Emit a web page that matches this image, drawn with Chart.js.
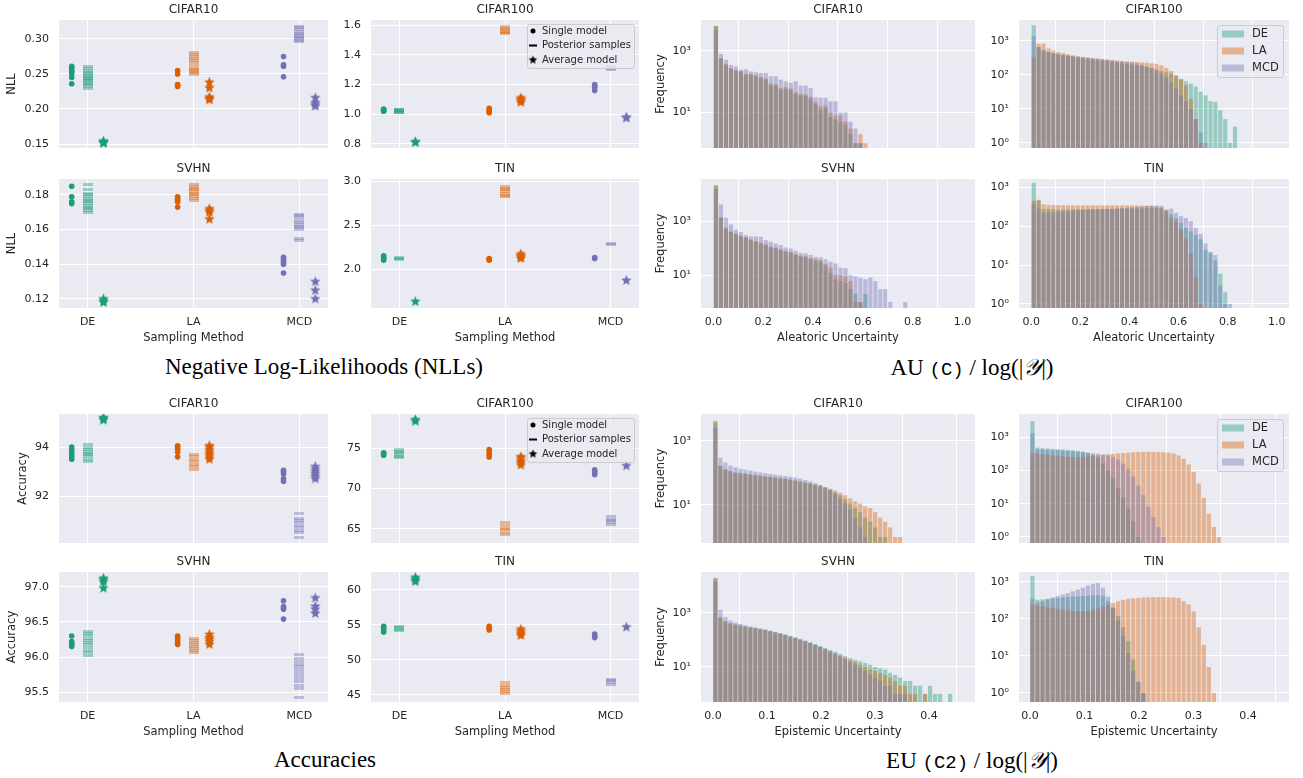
<!DOCTYPE html>
<html>
<head>
<meta charset="utf-8">
<title>NLL, accuracy and uncertainty histograms</title>
<script src="https://cdn.jsdelivr.net/npm/chart.js@4.4.1/dist/chart.umd.min.js"></script>
<style>
  html, body { margin: 0; padding: 0; background: #ffffff; }
  #fig { position: relative; width: 1303px; height: 778px; overflow: hidden; }
  #fig canvas { position: absolute; }
  .caption { position: absolute; transform: translate(-50%, -50%); white-space: nowrap;
             font-family: 'Liberation Serif', serif; font-size: 23px; color: #000; }
  .caption .tt { font-family: 'Liberation Mono', monospace; font-size: 19px; }
  .caption .cal { font-family: 'DejaVu Serif', serif; font-style: italic; }
</style>
</head>
<body>
<div id="fig">
  <div class="caption" style="left:324px;top:367px">Negative Log-Likelihoods (NLLs)</div>
  <div class="caption" style="left:972px;top:367px">AU <span class="tt">(C)</span> / log(|<span class="cal">𝒴</span>|)</div>
  <div class="caption" style="left:325px;top:760px">Accuracies</div>
  <div class="caption" style="left:972px;top:760px">EU <span class="tt">(C2)</span> / log(|<span class="cal">𝒴</span>|)</div>
</div>
<script>
// ---------- data ----------
const methods = ['DE', 'LA', 'MCD'];

// scatter values, one list per method (DE, LA, MCD)
const nllC10Single = [[0.236, 0.245, 0.250, 0.253, 0.255, 0.258, 0.261], [0.232, 0.234, 0.235, 0.250, 0.255], [0.246, 0.261, 0.263, 0.275]];
const nllC10Post = [[0.229, 0.232, 0.235, 0.237, 0.239, 0.241, 0.243, 0.244, 0.246, 0.248, 0.250, 0.252, 0.255, 0.258, 0.261],
  [0.249, 0.252, 0.254, 0.256, 0.258, 0.262, 0.266, 0.269, 0.272, 0.275, 0.278, 0.280],
  [0.296, 0.298, 0.300, 0.302, 0.304, 0.306, 0.308, 0.310, 0.313, 0.316, 0.318]];
const nllC10Avg = [[0.151, 0.152, 0.153, 0.154], [0.213, 0.215, 0.217, 0.230, 0.238], [0.204, 0.206, 0.209, 0.216]];

const nllC100Single = [[1.02, 1.025, 1.03, 1.035], [1.01, 1.02, 1.03, 1.04], [1.16, 1.18, 1.19, 1.20]];
const nllC100Post = [[1.01, 1.015, 1.02, 1.025, 1.03, 1.035], [1.54, 1.55, 1.56, 1.57, 1.58, 1.59], [1.30, 1.31, 1.32]];
const nllC100Avg = [[0.81, 0.815], [1.08, 1.09, 1.10, 1.11], [0.975, 0.98]];

const nllSvhnSingle = [[0.175, 0.176, 0.179, 0.185], [0.173, 0.176, 0.177, 0.178, 0.179], [0.135, 0.140, 0.141, 0.142, 0.143, 0.144]];
const nllSvhnPost = [[0.170, 0.171, 0.172, 0.173, 0.174, 0.175, 0.176, 0.177, 0.178, 0.179, 0.180, 0.181, 0.183, 0.186],
  [0.177, 0.178, 0.179, 0.180, 0.181, 0.182, 0.183, 0.184, 0.185, 0.186],
  [0.154, 0.155, 0.160, 0.161, 0.162, 0.163, 0.164, 0.165, 0.167, 0.168, 0.169]];
const nllSvhnAvg = [[0.118, 0.119, 0.120], [0.166, 0.170, 0.171, 0.172], [0.120, 0.125, 0.130]];

const nllTinSingle = [[2.10, 2.12, 2.13, 2.15], [2.10, 2.11, 2.12], [2.12, 2.13]];
const nllTinPost = [[2.11, 2.12, 2.13], [2.82, 2.84, 2.86, 2.88, 2.90, 2.92, 2.94], [2.28, 2.29]];
const nllTinAvg = [[1.63], [2.12, 2.14, 2.15, 2.17], [1.87]];

const accC10Single = [[93.5, 93.6, 93.7, 93.8, 93.9, 94.0], [93.6, 93.8, 93.9, 94.0, 94.05], [92.6, 92.7, 92.9, 93.0, 93.05]];
const accC10Post = [[93.4, 93.5, 93.6, 93.7, 93.75, 93.8, 93.9, 94.0, 94.1], [93.1, 93.2, 93.3, 93.4, 93.5, 93.6, 93.7],
  [90.3, 90.5, 90.6, 90.7, 90.8, 90.9, 91.0, 91.1, 91.3]];
const accC10Avg = [[95.1, 95.15, 95.2], [93.5, 93.6, 93.7, 93.8, 93.9, 94.0, 94.05], [92.7, 92.8, 92.9, 93.0, 93.1, 93.2]];

const accC100Single = [[74.1, 74.3, 74.4], [73.9, 74.2, 74.5, 74.8], [71.7, 71.9, 72.1, 72.3]];
const accC100Post = [[73.8, 74.0, 74.2, 74.4, 74.6, 74.8], [64.3, 64.6, 64.9, 65.1, 65.4, 65.8], [65.5, 65.8, 66.0, 66.2, 66.5]];
const accC100Avg = [[78.3, 78.5], [72.9, 73.2, 73.5, 73.8, 73.9], [72.8]];

const accSvhnSingle = [[96.15, 96.18, 96.2, 96.22, 96.3], [96.18, 96.2, 96.24, 96.27, 96.3], [96.54, 96.68, 96.7, 96.72, 96.8]];
const accSvhnPost = [[96.02, 96.06, 96.1, 96.14, 96.18, 96.21, 96.24, 96.27, 96.3, 96.33, 96.37],
  [96.06, 96.09, 96.12, 96.15, 96.18, 96.21, 96.24, 96.27],
  [95.42, 95.55, 95.6, 95.65, 95.7, 95.74, 95.78, 95.82, 95.86, 95.9, 95.94, 95.98, 96.03]];
const accSvhnAvg = [[96.98, 97.07, 97.1, 97.12], [96.18, 96.22, 96.25, 96.28, 96.32], [96.62, 96.68, 96.72, 96.84]];

const accTinSingle = [[54.0, 54.3, 54.6, 54.8], [54.3, 54.5, 54.8], [53.2, 53.4, 53.7]];
const accTinPost = [[54.2, 54.4, 54.6, 54.8], [45.2, 45.5, 45.8, 46.1, 46.4, 46.8], [46.5, 46.8, 47.0, 47.2]];
const accTinAvg = [[61.2, 61.5, 61.8], [53.5, 53.8, 54.1, 54.4], [54.7]];

// tick labels
const nllC10Ticks = [0.15, 0.20, 0.25, 0.30];
const nllC100Ticks = [0.8, 1.0, 1.2, 1.4, 1.6];
const nllSvhnTicks = [0.12, 0.14, 0.16, 0.18];
const nllTinTicks = [2.0, 2.5, 3.0];
const accC10Ticks = [92, 94];
const accC100Ticks = [65, 70, 75];
const accSvhnTicks = [95.5, 96.0, 96.5, 97.0];
const accTinTicks = [45, 50, 55, 60];
const auTicks = [0, 0.2, 0.4, 0.6, 0.8, 1.0];
const euTicks = [0, 0.1, 0.2, 0.3, 0.4];
const decadesAll = [1, 10, 100, 1000];
const decadesOdd = [10, 1000];

// histogram counts per bin, [DE, LA, MCD]
const auBin = 0.02;
const euBin = 0.00924;

const auC10Counts = [
  [6400, 550, 350, 260, 225, 210, 168, 168, 150, 131, 116, 74, 74, 55, 58, 53, 40, 35, 34, 28, 18, 12, 14, 7, 6, 5, 4, 2, 1, 1],
  [6400, 580, 370, 275, 235, 220, 180, 178, 160, 140, 128, 88, 82, 62, 66, 60, 46, 40, 38, 32, 22, 16, 17, 10, 8, 8, 5, 3, 1, 2, 1],
  [4800, 800, 510, 350, 310, 245, 250, 215, 200, 190, 190, 150, 150, 116, 103, 91, 103, 74, 74, 62, 31, 30, 30, 23, 23, 10, 10, 5, 3, 1]
];
const auC100Counts = [
  [2900, 660, 530, 470, 430, 400, 380, 360, 340, 320, 305, 290, 280, 270, 260, 250, 240, 230, 220, 210, 200, 190, 180, 170, 160, 145, 130, 120, 110, 90, 75, 65, 55, 45, 32, 25, 17, 16, 9, 5, 1, 3],
  [340, 830, 830, 600, 520, 470, 440, 410, 380, 360, 340, 325, 310, 300, 290, 280, 270, 260, 255, 250, 245, 240, 235, 230, 220, 210, 190, 160, 130, 100, 75, 49, 20, 5, 1],
  [1370, 660, 530, 470, 430, 410, 390, 370, 355, 340, 330, 320, 310, 300, 290, 280, 270, 260, 250, 240, 230, 215, 200, 180, 160, 135, 110, 85, 60, 40, 25, 17, 10, 5, 2, 1]
];
const auSvhnCounts = [
  [20500, 1330, 520, 390, 320, 270, 240, 195, 170, 146, 128, 105, 96, 83, 72, 66, 55, 47, 45, 38, 34, 31, 21, 12, 7, 6, 5, 3, 2, 1, 2],
  [21000, 1400, 560, 420, 345, 290, 255, 210, 182, 158, 138, 115, 104, 90, 78, 72, 60, 52, 50, 43, 39, 36, 26, 19, 10, 10, 9, 6, 1, 1],
  [15500, 4100, 1330, 750, 480, 390, 300, 270, 270, 260, 195, 170, 146, 128, 105, 96, 79, 66, 63, 55, 47, 45, 38, 31, 27, 19, 18, 10, 9, 8, 7, 8, 6, 3, 3, 1, 0, 0, 1]
];
const auTinCounts = [
  [1300, 450, 280, 275, 270, 265, 265, 265, 270, 270, 270, 270, 270, 272, 275, 275, 275, 278, 280, 280, 280, 282, 285, 285, 288, 290, 280, 240, 200, 160, 120, 89, 73, 60, 46, 24, 22, 13, 6, 2],
  [450, 475, 365, 350, 350, 345, 345, 342, 340, 340, 340, 340, 340, 340, 340, 340, 340, 340, 340, 340, 340, 338, 335, 332, 330, 320, 300, 250, 160, 130, 80, 49, 20, 5, 1],
  [365, 280, 220, 225, 225, 230, 232, 240, 250, 255, 260, 265, 270, 272, 275, 278, 280, 285, 290, 295, 300, 310, 320, 330, 335, 335, 330, 270, 280, 220, 180, 160, 133, 89, 63, 36, 20, 18, 3, 1, 1]
];
const euC10Counts = [
  [4200, 170, 130, 115, 105, 100, 95, 90, 86, 82, 78, 75, 72, 69, 66, 62, 58, 54, 50, 46, 42, 38, 34, 30, 25, 20, 15, 11, 8, 6, 4, 3, 2, 1, 1],
  [3800, 160, 125, 110, 100, 96, 92, 88, 84, 80, 77, 74, 71, 68, 65, 61, 57, 53, 50, 46, 43, 40, 36, 32, 28, 24, 20, 16, 13, 11, 9, 8, 6, 4, 3, 2, 1, 1],
  [2600, 300, 210, 170, 150, 135, 125, 118, 110, 104, 98, 93, 88, 84, 80, 76, 71, 66, 60, 54, 48, 42, 36, 29, 22, 16, 11, 7, 4, 2, 1]
];
const euC100Counts = [
  [3000, 480, 460, 450, 440, 430, 420, 410, 400, 385, 365, 335, 290, 230, 160, 100, 58, 30, 15, 7, 3, 1],
  [330, 320, 300, 290, 280, 270, 260, 255, 250, 250, 255, 260, 270, 280, 290, 300, 310, 320, 330, 340, 350, 355, 360, 360, 360, 355, 350, 340, 320, 280, 220, 150, 90, 40, 15, 5, 2, 1],
  [1300, 420, 420, 410, 400, 400, 390, 380, 370, 360, 350, 340, 330, 320, 300, 280, 250, 210, 160, 110, 65, 35, 18, 8, 4, 2, 1]
];
const euSvhnCounts = [
  [20000, 700, 500, 420, 380, 350, 320, 300, 280, 260, 240, 220, 200, 180, 160, 140, 125, 110, 95, 82, 70, 60, 50, 42, 36, 30, 25, 21, 18, 16, 14, 12, 10, 9, 8, 6, 5, 4, 3, 3, 2, 2, 1, 2, 1, 1, 0, 1],
  [19000, 650, 480, 400, 360, 330, 300, 280, 260, 240, 220, 200, 185, 165, 150, 130, 115, 100, 88, 76, 65, 55, 46, 38, 32, 26, 22, 18, 15, 12, 10, 8, 7, 6, 5, 4, 3, 2, 2, 1, 1, 0, 1],
  [15000, 1300, 700, 520, 440, 390, 350, 320, 290, 265, 240, 215, 195, 175, 155, 135, 120, 105, 90, 78, 66, 55, 45, 37, 30, 24, 19, 15, 12, 9, 7, 5, 4, 3, 2, 2, 1, 1, 1]
];
const euTinCounts = [
  [1450, 330, 340, 350, 360, 370, 380, 390, 400, 410, 420, 430, 440, 440, 420, 300, 200, 120, 60, 25, 8, 2, 1],
  [250, 230, 220, 210, 200, 190, 180, 170, 165, 160, 160, 165, 175, 190, 210, 240, 270, 300, 330, 350, 360, 370, 380, 385, 390, 390, 390, 385, 380, 370, 300, 250, 160, 60, 20, 5, 1],
  [350, 280, 300, 340, 380, 420, 460, 500, 560, 620, 700, 800, 900, 940, 700, 400, 200, 90, 35, 12, 4, 2, 1]
];

// ---------- styling ----------
const colors = ['#1b9e77', '#d95f02', '#7570b3'];
const postFill = ['rgba(27,158,119,0.4)', 'rgba(217,95,2,0.4)', 'rgba(117,112,179,0.4)'];
const histFill = ['rgba(27,158,119,0.4)', 'rgba(217,95,2,0.4)', 'rgba(117,112,179,0.4)'];
const textColor = '#262626';
const sup = { 0: '\u2070', 1: '\u00b9', 2: '\u00b2', 3: '\u00b3' };

Chart.defaults.font.family = "'DejaVu Sans', sans-serif";
Chart.defaults.color = textColor;

function starImage(color, r) {
  const c = document.createElement('canvas');
  const s = Math.ceil(r * 2 + 2);
  c.width = c.height = s;
  const g = c.getContext('2d');
  g.fillStyle = color;
  g.beginPath();
  for (let k = 0; k < 10; k++) {
    const rad = k % 2 ? r * 0.45 : r;
    const a = -Math.PI / 2 + k * Math.PI / 5;
    g.lineTo(s / 2 + rad * Math.cos(a), s / 2 + rad * Math.sin(a));
  }
  g.closePath();
  g.fill();
  return c;
}

function dashImage(color) {
  const c = document.createElement('canvas');
  c.width = 10; c.height = 3;
  const g = c.getContext('2d');
  g.fillStyle = color;
  g.fillRect(0, 0, 10, 3);
  return c;
}

const stars = colors.map(c => starImage(c, 5.5));
const dashes = postFill.map(dashImage);
const blackStar = starImage('#000', 4.5);

const areaBg = {
  id: 'areaBg',
  beforeDraw(chart) {
    const { ctx, chartArea: a } = chart;
    ctx.save();
    ctx.fillStyle = '#eaeaf2';
    ctx.fillRect(a.left, a.top, a.right - a.left, a.bottom - a.top);
    ctx.restore();
  }
};

// legend box inside the plot, top right
function boxLegend(cfg) {
  return {
    id: 'boxLegend',
    afterDraw(chart) {
      const { ctx, chartArea: a } = chart;
      const x = a.right - cfg.right - cfg.w;
      const y = a.top + cfg.top;
      ctx.save();
      ctx.beginPath();
      ctx.roundRect(x + 0.5, y + 0.5, cfg.w, cfg.h, 2.5);
      ctx.fillStyle = 'rgba(234,234,242,0.8)';
      ctx.fill();
      ctx.strokeStyle = '#cccccc';
      ctx.lineWidth = 1;
      ctx.stroke();
      ctx.font = cfg.size + "px 'DejaVu Sans'";
      ctx.textBaseline = 'middle';
      cfg.items.forEach((it, i) => {
        const cy = y + cfg.first + i * cfg.rowH;
        const mx = x + cfg.markX;
        if (it.kind === 'dot') {
          ctx.fillStyle = '#000';
          ctx.beginPath(); ctx.arc(mx, cy, 2.5, 0, Math.PI * 2); ctx.fill();
        } else if (it.kind === 'dash') {
          ctx.fillStyle = '#000';
          ctx.fillRect(mx - 4, cy - 1, 8, 2);
        } else if (it.kind === 'star') {
          ctx.drawImage(blackStar, mx - blackStar.width / 2, cy - blackStar.height / 2);
        } else {
          ctx.fillStyle = it.color;
          ctx.fillRect(mx, cy - 3.5, 22, 7);
        }
        ctx.fillStyle = textColor;
        ctx.fillText(it.label, x + cfg.textX, cy);
      });
      ctx.restore();
    }
  };
}

const scatterLegend = {
  w: 107, h: 44, right: 5, top: 4, first: 7, rowH: 14.5, markX: 6, textX: 15, size: 10,
  items: [{ kind: 'dot', label: 'Single model' }, { kind: 'dash', label: 'Posterior samples' }, { kind: 'star', label: 'Average model' }]
};
const histLegend = {
  w: 66, h: 52, right: 6, top: 5, first: 9, rowH: 17, markX: 5, textX: 35, size: 11.5,
  items: methods.map((m, i) => ({ kind: 'patch', label: m, color: histFill[i] }))
};

// ---------- layout ----------
const TITLE_H = 20;
const XAXIS_H = 39;

function makeCanvas(p) {
  const xH = p.showX ? XAXIS_H : 0;
  const padB = p.showX ? 0 : 6;
  const top = p.t - TITLE_H;
  const c = document.createElement('canvas');
  c.width = p.r - p.cl + 3;
  c.height = p.b - top + xH + padB;
  c.style.left = p.cl + 'px';
  c.style.top = top + 'px';
  c.style.width = c.width + 'px';
  c.style.height = c.height + 'px';
  document.getElementById('fig').appendChild(c);
  return { c, xH, padB, axisW: p.l - p.cl };
}

function baseOptions(p, box) {
  return {
    responsive: false,
    animation: false,
    events: [],
    devicePixelRatio: 1,
    layout: { padding: { left: 0, right: 3, top: 0, bottom: box.padB } },
    plugins: {
      legend: { display: false },
      tooltip: { enabled: false },
      title: { display: true, text: p.title, fullSize: false, color: textColor,
               font: { size: 12, weight: 'normal' }, padding: { top: 3, bottom: 2.6 } }
    }
  };
}

function xAxis(p, box, min, max, ticks, fmt, label) {
  return {
    type: 'linear', min, max, offset: false,
    afterBuildTicks: s => { s.ticks = ticks.map(v => ({ value: v })); },
    afterFit: s => { s.height = box.xH; s.paddingLeft = 0; s.paddingRight = 0; },
    grid: { color: '#ffffff', lineWidth: 1, drawTicks: false },
    border: { display: false },
    ticks: { display: p.showX, padding: 8, font: { size: 11 }, color: textColor, callback: fmt, maxRotation: 0 },
    title: { display: p.showX, text: label, color: textColor, font: { size: 11.5 }, padding: { top: 0, bottom: 2.4 } }
  };
}

function yAxis(p, box, extra) {
  return Object.assign({
    min: p.yMin, max: p.yMax,
    afterBuildTicks: s => { s.ticks = p.yTicks.map(v => ({ value: v })); },
    afterFit: s => { s.width = box.axisW; s.paddingTop = 0; s.paddingBottom = 0; },
    grid: { color: '#ffffff', lineWidth: 1, drawTicks: false },
    border: { display: false },
    title: { display: !!p.yLabel, text: p.yLabel || '', color: textColor, font: { size: 11.5 },
             padding: { top: (p.yTitleX || 12) - 6.9, bottom: 0 } }
  }, extra);
}

function scatterChart(p) {
  const box = makeCanvas(p);
  const datasets = [];
  methods.forEach((m, i) => {
    datasets.push({ label: m + ' single', data: p.single[i].map(v => ({ x: i - 0.15, y: v })),
      pointStyle: 'circle', pointRadius: 2.8, pointBackgroundColor: colors[i], pointBorderWidth: 0 });
    datasets.push({ label: m + ' posterior', data: p.post[i].map(v => ({ x: i, y: v })),
      pointStyle: dashes[i], pointRadius: 5, pointBorderWidth: 0 });
    datasets.push({ label: m + ' average', data: p.avg[i].map(v => ({ x: i + 0.15, y: v })),
      pointStyle: stars[i], pointRadius: 5, pointBorderWidth: 0 });
  });
  const options = baseOptions(p, box);
  options.scales = {
    x: xAxis(p, box, -0.27, 2.27, [0, 1, 2], v => methods[v], 'Sampling Method'),
    y: yAxis(p, box, { type: 'linear',
      ticks: { padding: 10, font: { size: 11 }, color: textColor, callback: v => v.toFixed(p.dec) } })
  };
  const plugins = [areaBg];
  if (p.legend) plugins.push(boxLegend(scatterLegend));
  return new Chart(box.c, { type: 'scatter', data: { datasets }, options, plugins });
}

function histChart(p) {
  const box = makeCanvas(p);
  const datasets = p.counts.map((counts, i) => ({
    label: methods[i],
    data: counts.map((n, k) => ({ x: (k + 0.5) * p.bw, y: n })).filter(d => d.y > 0),
    backgroundColor: histFill[i],
    borderWidth: 0,
    grouped: false,
    order: 3 - i,
    categoryPercentage: 1,
    barPercentage: 0.84
  }));
  const options = baseOptions(p, box);
  options.scales = {
    x: xAxis(p, box, p.xMin, p.xMax, p.xTicks, v => v.toFixed(1), p.xLabel),
    y: yAxis(p, box, { type: 'logarithmic',
      ticks: { padding: 10, font: { size: 11 }, color: textColor,
               callback: v => '10' + sup[Math.round(Math.log10(v))] } })
  };
  const plugins = [areaBg];
  if (p.legend) plugins.push(boxLegend(histLegend));
  return new Chart(box.c, { type: 'bar', data: { datasets }, options, plugins });
}

const scatterPanels = [
  { title: 'CIFAR10', cl: 0, l: 59, t: 20, r: 330, b: 148, yMin: 0.1443, yMax: 0.327, yTicks: nllC10Ticks, dec: 2,
    yLabel: 'NLL', yTitleX: 12.5, single: nllC10Single, post: nllC10Post, avg: nllC10Avg },
  { title: 'CIFAR100', cl: 335, l: 371, t: 20, r: 641, b: 148, yMin: 0.773, yMax: 1.634, yTicks: nllC100Ticks, dec: 1,
    legend: true, single: nllC100Single, post: nllC100Post, avg: nllC100Avg },
  { title: 'SVHN', cl: 0, l: 59, t: 179, r: 330, b: 308, yMin: 0.1148, yMax: 0.1892, yTicks: nllSvhnTicks, dec: 2,
    yLabel: 'NLL', yTitleX: 12.5, showX: true, single: nllSvhnSingle, post: nllSvhnPost, avg: nllSvhnAvg },
  { title: 'TIN', cl: 335, l: 371, t: 179, r: 641, b: 308, yMin: 1.557, yMax: 3.023, yTicks: nllTinTicks, dec: 1,
    showX: true, single: nllTinSingle, post: nllTinPost, avg: nllTinAvg },
  { title: 'CIFAR10', cl: 0, l: 59, t: 414, r: 330, b: 543, yMin: 90.08, yMax: 95.35, yTicks: accC10Ticks, dec: 0,
    yLabel: 'Accuracy', yTitleX: 23, single: accC10Single, post: accC10Post, avg: accC10Avg },
  { title: 'CIFAR100', cl: 335, l: 371, t: 414, r: 641, b: 543, yMin: 63.27, yMax: 79.2, yTicks: accC100Ticks, dec: 0,
    legend: true, single: accC100Single, post: accC100Post, avg: accC100Avg },
  { title: 'SVHN', cl: 0, l: 59, t: 572, r: 330, b: 702, yMin: 95.36, yMax: 97.21, yTicks: accSvhnTicks, dec: 1,
    yLabel: 'Accuracy', yTitleX: 12.5, showX: true, single: accSvhnSingle, post: accSvhnPost, avg: accSvhnAvg },
  { title: 'TIN', cl: 335, l: 371, t: 572, r: 641, b: 702, yMin: 44.0, yMax: 62.57, yTicks: accTinTicks, dec: 0,
    showX: true, single: accTinSingle, post: accTinPost, avg: accTinAvg }
];

const histPanels = [
  { title: 'CIFAR10', cl: 650, l: 701, t: 20, r: 975, b: 148, xMin: -0.05, xMax: 1.05, xTicks: auTicks,
    yMin: 0.74, yMax: 10000, yTicks: decadesOdd, yLabel: 'Frequency', yTitleX: 11.5, counts: auC10Counts, bw: auBin },
  { title: 'CIFAR100', cl: 980, l: 1019, t: 20, r: 1289, b: 148, xMin: -0.05, xMax: 1.05, xTicks: auTicks,
    yMin: 0.713, yMax: 4150, yTicks: decadesAll, legend: true, counts: auC100Counts, bw: auBin },
  { title: 'SVHN', cl: 650, l: 701, t: 179, r: 975, b: 308, xMin: -0.05, xMax: 1.05, xTicks: auTicks,
    yMin: 0.6, yMax: 36000, yTicks: decadesOdd, yLabel: 'Frequency', yTitleX: 11.5, showX: true,
    xLabel: 'Aleatoric Uncertainty', counts: auSvhnCounts, bw: auBin },
  { title: 'TIN', cl: 980, l: 1019, t: 179, r: 1289, b: 308, xMin: -0.05, xMax: 1.05, xTicks: auTicks,
    yMin: 0.787, yMax: 1620, yTicks: decadesAll, showX: true, xLabel: 'Aleatoric Uncertainty', counts: auTinCounts, bw: auBin },
  { title: 'CIFAR10', cl: 650, l: 701, t: 414, r: 975, b: 543, xMin: -0.022, xMax: 0.485, xTicks: euTicks,
    yMin: 0.65, yMax: 6900, yTicks: decadesOdd, yLabel: 'Frequency', yTitleX: 11.5, counts: euC10Counts, bw: euBin },
  { title: 'CIFAR100', cl: 980, l: 1019, t: 414, r: 1289, b: 543, xMin: -0.02, xMax: 0.475, xTicks: euTicks,
    yMin: 0.66, yMax: 4900, yTicks: decadesAll, legend: true, counts: euC100Counts, bw: euBin },
  { title: 'SVHN', cl: 650, l: 701, t: 572, r: 975, b: 702, xMin: -0.022, xMax: 0.485, xTicks: euTicks,
    yMin: 0.5, yMax: 33000, yTicks: decadesOdd, yLabel: 'Frequency', yTitleX: 11.5, showX: true,
    xLabel: 'Epistemic Uncertainty', counts: euSvhnCounts, bw: euBin },
  { title: 'TIN', cl: 980, l: 1019, t: 572, r: 1289, b: 702, xMin: -0.02, xMax: 0.475, xTicks: euTicks,
    yMin: 0.57, yMax: 1860, yTicks: decadesAll, showX: true, xLabel: 'Epistemic Uncertainty', counts: euTinCounts, bw: euBin }
];

scatterPanels.forEach(scatterChart);
histPanels.forEach(histChart);
</script>
</body>
</html>
